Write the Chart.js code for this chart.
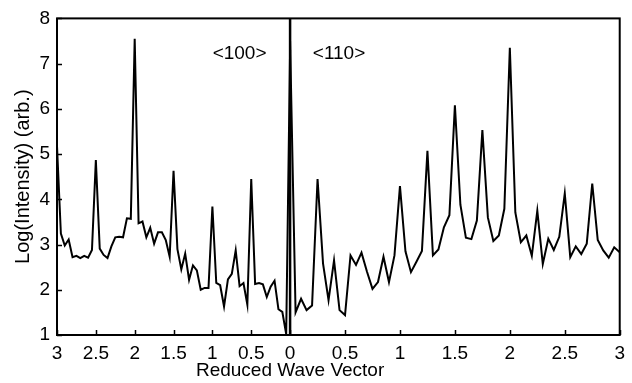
<!DOCTYPE html>
<html>
<head>
<meta charset="utf-8">
<script src="https://cdn.jsdelivr.net/npm/chart.js@4/dist/chart.umd.min.js"></script>
<style>
  html, body { margin: 0; padding: 0; background: #fff; }
  canvas { display: block; }
</style>
</head>
<body>
<canvas id="spectrumChart" width="632" height="383"></canvas>
<script>
// reduced wave vector samples (same grid on both branches)
const waveVector = [0, 0.05, 0.1, 0.15, 0.2, 0.25, 0.3, 0.35, 0.4, 0.45,
    0.5, 0.55, 0.6, 0.65, 0.7, 0.75, 0.8, 0.85, 0.9, 0.95,
    1, 1.05, 1.1, 1.15, 1.2, 1.25, 1.3, 1.35, 1.4, 1.45,
    1.5, 1.55, 1.6, 1.65, 1.7, 1.75, 1.8, 1.85, 1.9, 1.95,
    2, 2.05, 2.1, 2.15, 2.2, 2.25, 2.3, 2.35, 2.4, 2.45,
    2.5, 2.55, 2.6, 2.65, 2.7, 2.75, 2.8, 2.85, 2.9, 2.95, 3];

// <100> branch, log intensity at waveVector[i]
const intensity100 = [7.30, 1.02, 1.51, 1.57, 2.20, 2.07, 1.84, 2.12, 2.15, 2.13,
    4.45, 1.67, 2.15, 2.08, 2.87, 2.35, 2.23, 1.63, 2.10, 2.15,
    3.84, 2.04, 2.04, 2.00, 2.43, 2.54, 2.22, 2.80, 2.45, 2.90,
    4.63, 2.73, 3.10, 3.27, 3.27, 3.02, 3.37, 3.16, 3.51, 3.47,
    7.55, 3.57, 3.58, 3.16, 3.17, 3.16, 2.96, 2.70, 2.77, 2.91,
    4.87, 2.88, 2.71, 2.75, 2.70, 2.75, 2.72, 3.11, 2.98, 3.24, 5.18];

// <110> branch, log intensity at waveVector[i]
const intensity110 = [7.50, 1.50, 1.80, 1.55, 1.65, 4.45, 2.58, 1.77, 2.65, 1.55,
    1.44, 2.76, 2.55, 2.82, 2.40, 2.02, 2.17, 2.73, 2.17, 2.76,
    4.29, 2.85, 2.39, 2.62, 2.86, 5.07, 2.76, 2.89, 3.38, 3.65,
    6.08, 3.88, 3.15, 3.12, 3.53, 5.53, 3.60, 3.08, 3.20, 3.79,
    7.35, 3.71, 3.05, 3.20, 2.75, 3.75, 2.57, 3.13, 2.88, 3.17,
    4.13, 2.72, 2.96, 2.79, 3.02, 4.35, 3.10, 2.87, 2.71, 2.94, 2.83];

const tickValues = [0, 0.5, 1, 1.5, 2, 2.5, 3];
const yTicks = [1, 2, 3, 4, 5, 6, 7, 8];

// <100> runs leftwards from 0, <110> rightwards with |k| scaled by sqrt(2)
const R2 = Math.SQRT2;
const pos100 = k => -k;
const pos110 = k => k * R2;

const FONT = '"Liberation Sans", Arial, Helvetica, sans-serif';

const pts100 = waveVector.map((k, i) => ({x: pos100(k), y: intensity100[i]}));
const pts110 = waveVector.map((k, i) => ({x: pos110(k), y: intensity110[i]}));

const xTickPositions = tickValues.slice().reverse().map(pos100)
    .concat(tickValues.slice(1).map(pos110));

// frame, inward ticks, direction labels and x title (centred under 0)
const framePlugin = {
    id: 'frame',
    afterDatasetsDraw(chart) {
        const {ctx, chartArea: a, scales: {x, y}} = chart;
        ctx.save();
        ctx.strokeStyle = '#000';
        ctx.lineWidth = 1.5;
        ctx.beginPath();
        xTickPositions.forEach(v => {
            const px = Math.round(x.getPixelForValue(v)) + 0.5;
            ctx.moveTo(px, a.bottom);
            ctx.lineTo(px, a.bottom - 5);
        });
        yTicks.forEach(v => {
            const py = Math.round(y.getPixelForValue(v)) + 0.5;
            ctx.moveTo(a.left, py);
            ctx.lineTo(a.left + 5, py);
        });
        ctx.stroke();
        ctx.lineWidth = 2;
        ctx.strokeRect(a.left, a.top, a.right - a.left, a.bottom - a.top);

        ctx.fillStyle = '#000';
        ctx.font = '19px ' + FONT;
        ctx.textAlign = 'center';
        ctx.textBaseline = 'middle';
        ctx.fillText('<100>', x.getPixelForValue(-0.65), y.getPixelForValue(7.22));
        ctx.fillText('<110>', x.getPixelForValue(0.63), y.getPixelForValue(7.22));
        ctx.fillText('Reduced Wave Vector', x.getPixelForValue(0), a.bottom + 36);
        ctx.restore();
    }
};

const chart = new Chart(document.getElementById('spectrumChart'), {
    type: 'line',
    data: {
        datasets: [{
            label: '<100>',
            data: pts100,
            borderColor: '#000',
            borderWidth: 2,
            pointRadius: 0,
            tension: 0
        }, {
            label: '<110>',
            data: pts110,
            borderColor: '#000',
            borderWidth: 2,
            pointRadius: 0,
            tension: 0
        }, {
            label: 'split',
            data: [{x: 0, y: yTicks[0]}, {x: 0, y: yTicks[yTicks.length - 1]}],
            borderColor: '#000',
            borderWidth: 2.5,
            pointRadius: 0
        }]
    },
    options: {
        responsive: false,
        devicePixelRatio: 1,
        animation: false,
        layout: {padding: {top: 17, right: 10, left: 0, bottom: 0}},
        plugins: {
            legend: {display: false},
            tooltip: {enabled: false}
        },
        scales: {
            x: {
                type: 'linear',
                min: pos100(3),
                max: pos110(3),
                grid: {display: false, drawTicks: false},
                border: {display: false},
                afterBuildTicks: s => { s.ticks = xTickPositions.map(v => ({value: v})); },
                afterFit: s => { s.height = 48; },
                ticks: {
                    autoSkip: false,
                    maxRotation: 0,
                    padding: 7,
                    color: '#000',
                    font: {family: FONT, size: 19},
                    callback: v => {
                        const k = v < 0 ? -v : v / R2;
                        return String(Math.round(k * 100) / 100);
                    }
                }
            },
            y: {
                min: 1,
                max: 8,
                grid: {display: false, drawTicks: false},
                border: {display: false},
                afterFit: s => { s.width = 57; },
                ticks: {
                    stepSize: 1,
                    padding: 7,
                    color: '#000',
                    font: {family: FONT, size: 19}
                },
                title: {
                    display: true,
                    text: 'Log(Intensity) (arb.)',
                    color: '#000',
                    font: {family: FONT, size: 20},
                    padding: {top: 11, bottom: 0}
                }
            }
        }
    },
    plugins: [framePlugin]
});
</script>
</body>
</html>
